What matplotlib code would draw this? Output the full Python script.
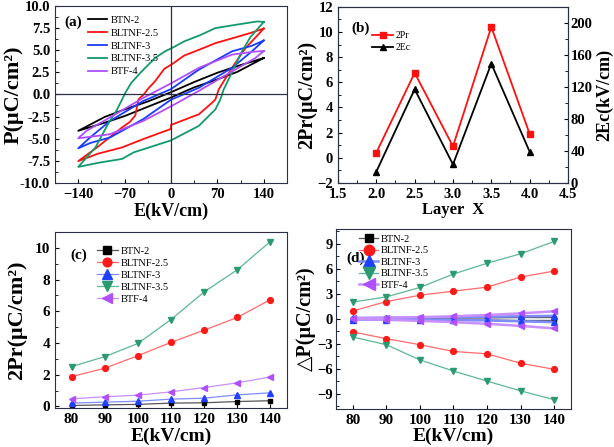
import numpy as np
import matplotlib
matplotlib.use("Agg")
import matplotlib.pyplot as plt
from matplotlib.ticker import MultipleLocator, FormatStrFormatter

plt.rcParams["font.family"] = ["Liberation Serif", "DejaVu Sans"]
plt.rcParams["font.weight"] = "bold"
plt.rcParams["axes.labelweight"] = "bold"
plt.rcParams["axes.edgecolor"] = "#2a2f45"
plt.rcParams["xtick.direction"] = "in"
plt.rcParams["ytick.direction"] = "in"

samples = ["BTN-2", "BLTNF-2.5", "BLTNF-3", "BLTNF-3.5", "BTF-4"]
colors = ["black", "#ff1010", "#1a3cff", "#119a6a", "#b04dff"]
mk_colors = ["black", "#ff1a1a", "#2040ff", "#2a9a70", "#b050ff"]
line_colors = ["#555555", "#ff6a6a", "#7f8cff", "#5cb894", "#c890ff"]

# (a) P-E loops: upper branch (E falling) and lower branch (E rising)
up_E = {
    "BTN-2": [140, 100, 70, 35, 0, -35, -70, -100, -140],
    "BLTNF-2.5": [140, 120, 95, 67, 44, 20, 5, 0, -10, -24, -35, -41, -49, -54, -62, -74, -90, -110, -140],
    "BLTNF-3": [140, 122, 92, 42, 0, -42, -92, -122, -140],
    "BLTNF-3.5": [140, 130, 100, 67, 44, 20, 6, 0, -9, -24, -44, -60, -68, -74, -82, -94, -114, -140],
    "BTF-4": [140, 127, 92, 42, 0, -42, -92, -127, -140],
}
up_P = {
    "BTN-2": [4.12, 3.2, 2.45, 1.4, 0.25, -0.8, -1.7, -2.55, -4.12],
    "BLTNF-2.5": [7.45, 6.95, 6.4, 5.8, 5.1, 4.4, 3.6, 3.35, 2.9, 1.5, 0.6, 0.0, -0.56, -2.4, -3.1, -3.75, -4.7, -5.9, -7.55],
    "BLTNF-3": [6.1, 5.5, 4.87, 2.8, 0.6, -0.75, -3.0, -4.87, -6.1],
    "BLTNF-3.5": [8.2, 8.25, 7.9, 7.5, 6.7, 6.0, 5.43, 5.2, 4.87, 4.12, 2.62, 1.3, 0.3, -0.6, -1.8, -3.2, -6.0, -8.2],
    "BTF-4": [4.9, 4.85, 4.5, 3.0, 1.25, -0.4, -2.6, -4.1, -4.95],
}
low_E = {
    "BTN-2": [-140, -100, -70, -35, 0, 35, 70, 100, 140],
    "BLTNF-2.5": [-140, -110, -74, -40, 0, 0, 42, 62, 67, 72, 92, 112, 140],
    "BLTNF-3": [-140, -122, -92, -42, 0, 42, 92, 122, 140],
    "BLTNF-3.5": [-140, -107, -74, -56, 0, 42, 67, 74.5, 79.5, 92, 107, 120, 140],
    "BTF-4": [-140, -127, -92, -42, 0, 42, 92, 127, 140],
}
low_P = {
    "BTN-2": [-4.12, -3.2, -2.45, -1.4, -0.35, 0.8, 1.7, 2.55, 4.12],
    "BLTNF-2.5": [-7.55, -6.7, -6.0, -5.0, -3.9, -3.45, -2.25, -0.94, -0.56, 0.56, 3.0, 5.2, 7.45],
    "BLTNF-3": [-6.1, -5.5, -4.87, -2.8, -0.6, 0.75, 3.0, 4.87, 6.1],
    "BLTNF-3.5": [-8.2, -7.7, -7.3, -6.55, -5.2, -3.56, -1.69, -0.56, 0.56, 2.5, 4.87, 6.5, 8.2],
    "BTF-4": [-4.95, -4.85, -4.5, -3.0, -1.35, 0.4, 2.6, 4.1, 4.9],
}

# (b) vs layer X
layer_x = [2.0, 2.5, 3.0, 3.5, 4.0]
pr2_layer = [0.4, 6.75, 0.9, 10.4, 1.9]
ec2_layer = [14, 117, 23, 149, 39]

# (c), (d) vs field
field = [80, 90, 100, 110, 120, 130, 140]
pr2 = {
    "BTN-2": [0.06, 0.10, 0.13, 0.21, 0.23, 0.31, 0.36],
    "BLTNF-2.5": [1.88, 2.41, 3.20, 4.04, 4.81, 5.61, 6.74],
    "BLTNF-3": [0.21, 0.27, 0.33, 0.46, 0.52, 0.73, 0.86],
    "BLTNF-3.5": [2.51, 3.14, 3.97, 5.48, 7.22, 8.62, 10.4],
    "BTF-4": [0.48, 0.61, 0.71, 0.92, 1.19, 1.49, 1.86],
}
dp_up = {
    "BTN-2": [0.03, 0.05, 0.05, 0.08, 0.10, 0.15, 0.15],
    "BLTNF-2.5": [0.93, 2.06, 2.82, 3.31, 3.79, 5.0, 5.72],
    "BLTNF-3": [0.10, 0.12, 0.15, 0.20, 0.25, 0.30, 0.35],
    "BLTNF-3.5": [2.0, 2.62, 3.75, 5.36, 6.65, 7.78, 9.27],
    "BTF-4": [0.05, 0.15, 0.20, 0.30, 0.45, 0.65, 0.90],
}
dp_low = {
    "BTN-2": [-0.05, -0.08, -0.10, -0.12, -0.15, -0.20, -0.20],
    "BLTNF-2.5": [-1.57, -2.38, -3.10, -3.91, -4.19, -5.32, -6.05],
    "BLTNF-3": [-0.10, -0.10, -0.12, -0.15, -0.20, -0.30, -0.40],
    "BLTNF-3.5": [-2.18, -3.10, -4.92, -6.25, -7.46, -8.63, -9.68],
    "BTF-4": [-0.05, -0.12, -0.25, -0.40, -0.60, -0.85, -1.15],
}
markers = ["s", "o", "^", "v", "<"]
msizes = [3.4, 4.2, 4.8, 5.0, 5.0]

fig = plt.figure(figsize=(6.14, 4.47), dpi=100)
ax_a = fig.add_axes([0.0896, 0.591, 0.3778, 0.3956])
ax_b = fig.add_axes([0.5505, 0.591, 0.3745, 0.3937])
ax_c = fig.add_axes([0.0896, 0.0872, 0.3778, 0.3938])
ax_d = fig.add_axes([0.547, 0.085, 0.383, 0.4027])

# ---- (a)
for s, c in zip(samples, colors):
    ax_a.plot(up_E[s] + low_E[s], up_P[s] + low_P[s], color=c, lw=1.3, label=s)
ax_a.axhline(0, color="#2a2f45", lw=0.9)
ax_a.axvline(0, color="#2a2f45", lw=0.9)
ax_a.set_xlim(-175, 175)
ax_a.set_ylim(-10, 10)
ax_a.set_xticks([-140, -70, 0, 70, 140])
ax_a.xaxis.set_minor_locator(MultipleLocator(35))
ax_a.yaxis.set_major_locator(MultipleLocator(2.5))
ax_a.yaxis.set_minor_locator(MultipleLocator(1.25))
ax_a.yaxis.set_major_formatter(FormatStrFormatter("%.1f"))
ax_a.tick_params(labelsize=10.5, length=3)
ax_a.tick_params(which="minor", length=2)
ax_a.set_xlabel("E(kV/cm)", fontsize=13)
ax_a.set_ylabel("P(μC/cm²)", fontsize=16)
ax_a.yaxis.set_label_coords(-0.135, 0.5)
ax_a.xaxis.set_label_coords(0.5, -0.11)
ax_a.legend(loc="upper left", bbox_to_anchor=(0.1, 1.0), frameon=False,
            prop={"size": 7.5, "weight": "normal"}, handlelength=1.9,
            labelspacing=0.35, handletextpad=0.3)
ax_a.text(0.04, 0.89, "(a)", transform=ax_a.transAxes, fontsize=11, fontweight="bold")

# ---- (b)
l1, = ax_b.plot(layer_x, pr2_layer, color="#ff1010", marker="s", ms=4, lw=1.3, label="2Pr")
ax_b2 = ax_b.twinx()
l2, = ax_b2.plot(layer_x, ec2_layer, color="black", marker="^", ms=4.5, lw=1.3, label="2Ec")
ax_b.set_xlim(1.5, 4.5)
ax_b.set_ylim(-2, 12)
ax_b2.set_ylim(0, 220)
ax_b.xaxis.set_major_locator(MultipleLocator(0.5))
ax_b.xaxis.set_minor_locator(MultipleLocator(0.25))
ax_b.yaxis.set_major_locator(MultipleLocator(2))
ax_b.yaxis.set_minor_locator(MultipleLocator(1))
ax_b2.yaxis.set_major_locator(MultipleLocator(40))
ax_b2.yaxis.set_minor_locator(MultipleLocator(20))
ax_b.xaxis.set_major_formatter(FormatStrFormatter("%.1f"))
ax_b.tick_params(labelsize=10.5, length=3)
ax_b.tick_params(which="minor", length=2)
ax_b2.tick_params(labelsize=10.5, length=3, pad=2)
ax_b2.tick_params(which="minor", length=2)
ax_b.set_xlabel("Layer  X", fontsize=12)
ax_b.xaxis.set_label_coords(0.5, -0.11)
ax_b.set_ylabel("2Pr(μC/cm²)", fontsize=14.5)
ax_b.yaxis.set_label_coords(-0.09, 0.5)
ax_b2.set_ylabel("2Ec(kV/cm)", fontsize=13)
ax_b2.yaxis.set_label_coords(1.12, 0.5)
ax_b.legend([l1, l2], ["2Pr", "2Ec"], loc="upper left", bbox_to_anchor=(0.11, 0.91),
            frameon=False, prop={"size": 7, "weight": "normal"}, handlelength=2.2,
            labelspacing=0.3, handletextpad=0.2)
ax_b.text(0.06, 0.86, "(b)", transform=ax_b.transAxes, fontsize=11, fontweight="bold")

# ---- (c)
for i, s in enumerate(samples):
    ax_c.plot(field, pr2[s], color=line_colors[i], lw=0.9, marker=markers[i], ms=msizes[i],
              mfc=mk_colors[i], mec=mk_colors[i], label=s)
ax_c.set_xlim(75, 145)
ax_c.set_ylim(-0.1, 11)
ax_c.set_xticks(field)
ax_c.yaxis.set_major_locator(MultipleLocator(2))
ax_c.yaxis.set_minor_locator(MultipleLocator(1))
ax_c.tick_params(labelsize=11, length=3)
ax_c.tick_params(which="minor", length=2)
ax_c.set_xlabel("E(kV/cm)", fontsize=14)
ax_c.xaxis.set_label_coords(0.5, -0.11)
ax_c.set_ylabel("2Pr(μC/cm²)", fontsize=16)
ax_c.yaxis.set_label_coords(-0.12, 0.5)
ax_c.legend(loc="upper left", bbox_to_anchor=(0.14, 0.97), frameon=False,
            prop={"size": 7.5, "weight": "normal"}, handlelength=2.0,
            labelspacing=0.25, handletextpad=0.3, markerscale=1.5)
ax_c.text(0.065, 0.85, "(c)", transform=ax_c.transAxes, fontsize=11, fontweight="bold")

# ---- (d)
for i, s in enumerate(samples):
    lw = 1.8 if s in ("BLTNF-3", "BTF-4") else 0.9
    ax_d.plot(field, dp_up[s], color=line_colors[i], lw=lw, marker=markers[i], ms=msizes[i],
              mfc=mk_colors[i], mec=mk_colors[i], label=s)
    ax_d.plot(field, dp_low[s], color=line_colors[i], lw=lw, marker=markers[i], ms=msizes[i],
              mfc=mk_colors[i], mec=mk_colors[i])
ax_d.set_xlim(75, 145)
ax_d.set_ylim(-10.8, 10.75)
ax_d.set_xticks(field)
ax_d.yaxis.set_major_locator(MultipleLocator(3))
ax_d.yaxis.set_minor_locator(MultipleLocator(1.5))
ax_d.tick_params(axis="x", labelsize=11, length=3)
ax_d.tick_params(axis="y", labelsize=10.5, length=3, pad=2.5)
ax_d.tick_params(which="minor", length=2)
ax_d.set_xlabel("E(kV/cm)", fontsize=14)
ax_d.xaxis.set_label_coords(0.5, -0.105)
ax_d.set_ylabel("△P(μC/cm²)", fontsize=14.5)
ax_d.yaxis.set_label_coords(-0.085, 0.5)
ax_d.legend(loc="upper left", bbox_to_anchor=(0.06, 1.02), frameon=False,
            prop={"size": 7.5, "weight": "normal"}, handlelength=1.8,
            labelspacing=0.2, handletextpad=0.3, markerscale=1.8)
ax_d.text(0.045, 0.82, "(d)", transform=ax_d.transAxes, fontsize=11, fontweight="bold")

for ax in (ax_a, ax_b, ax_b2, ax_c, ax_d):
    for lab in ax.get_xticklabels() + ax.get_yticklabels():
        lab.set_fontweight("bold")

fig.savefig("out.png", dpi=100)
